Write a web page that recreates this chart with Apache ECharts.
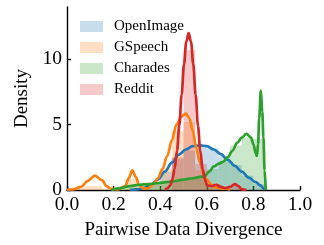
<!DOCTYPE html>
<html>
<head>
<meta charset="utf-8">
<script src="https://cdn.jsdelivr.net/npm/echarts@6/dist/echarts.min.js"></script>
<style>html,body{margin:0;padding:0;background:#fff;}#c{width:324px;height:245px;}</style>
</head>
<body>
<div id="c"></div>
<script>
// ---- data ----
const seriesNames = ['OpenImage', 'GSpeech', 'Charades', 'Reddit'];
const xTicks = [0, 0.2, 0.4, 0.6, 0.8, 1.0];
const yTicks = [0, 5, 10];

// histogram bins: [left, right, density]
const histOpenImage = [[0.30,0.35,0.05],[0.35,0.40,0.4],[0.40,0.45,1.4],[0.45,0.50,2.4],[0.50,0.55,3.0],[0.55,0.60,3.3],[0.60,0.65,3.2],[0.65,0.70,2.6],[0.70,0.75,1.9],[0.75,0.80,1.1],[0.80,0.85,0.45]];
const histGSpeech = [[0.00,0.05,0.05],[0.05,0.10,0.3],[0.10,0.15,0.3],[0.15,0.20,0.1],[0.25,0.30,0.85],[0.30,0.35,0.2],[0.35,0.40,0.6],[0.40,0.45,1.7],[0.45,0.50,4.5],[0.50,0.55,5.2],[0.55,0.60,1.5],[0.60,0.65,0.3]];
const histCharades = [[0.20,0.25,0.15],[0.25,0.30,0.3],[0.30,0.35,0.4],[0.35,0.40,0.5],[0.40,0.45,0.6],[0.45,0.50,0.7],[0.50,0.55,0.8],[0.55,0.60,0.9],[0.60,0.65,1.6],[0.65,0.70,2.2],[0.70,0.75,3.4],[0.75,0.80,4.0],[0.80,0.85,3.9]];
const histReddit = [[0.45,0.50,2.5],[0.50,0.55,10.7],[0.55,0.60,2.0],[0.60,0.65,0.2],[0.65,0.70,0.2],[0.70,0.75,0.3]];

// density curves: [x, density]
const kdeOpenImage = [[0.27,0.0],[0.30,0.05],[0.33,0.15],[0.36,0.4],[0.39,0.8],[0.42,1.4],[0.45,2.1],[0.48,2.7],[0.51,3.1],[0.54,3.35],[0.57,3.42],[0.60,3.35],[0.63,3.1],[0.66,2.75],[0.69,2.3],[0.72,1.85],[0.75,1.4],[0.78,0.95],[0.81,0.6],[0.83,0.35],[0.845,0.1],[0.85,0.0]];
const kdeGSpeech = [[0.0,0.02],[0.03,0.05],[0.06,0.25],[0.09,0.7],[0.12,1.1],[0.15,0.75],[0.17,0.3],[0.19,0.08],[0.22,0.05],[0.25,0.3],[0.265,0.9],[0.28,1.5],[0.295,1.0],[0.31,0.35],[0.33,0.12],[0.35,0.15],[0.37,0.45],[0.39,0.9],[0.41,1.6],[0.43,2.6],[0.45,3.8],[0.47,5.0],[0.49,5.6],[0.51,5.85],[0.525,5.5],[0.54,4.5],[0.555,3.2],[0.57,2.1],[0.585,1.3],[0.60,0.8],[0.62,0.4],[0.64,0.2],[0.66,0.15],[0.68,0.1],[0.70,0.05]];
const kdeCharades = [[0.19,0.0],[0.23,0.15],[0.27,0.3],[0.31,0.4],[0.35,0.45],[0.40,0.55],[0.45,0.65],[0.50,0.8],[0.54,0.9],[0.57,1.0],[0.59,1.05],[0.61,1.4],[0.63,1.8],[0.65,2.0],[0.67,2.15],[0.69,2.5],[0.71,3.0],[0.73,3.6],[0.75,4.0],[0.77,4.3],[0.79,4.0],[0.80,3.5],[0.81,2.8],[0.815,2.6],[0.82,3.5],[0.825,5.5],[0.832,7.6],[0.838,6.0],[0.843,4.0],[0.848,1.5],[0.853,0.0]];
const kdeReddit = [[0.42,0.02],[0.432,0.13],[0.442,0.34],[0.452,0.79],[0.462,1.62],[0.472,2.99],[0.482,4.93],[0.492,7.28],[0.502,9.61],[0.512,11.35],[0.522,12.0],[0.532,11.35],[0.542,9.61],[0.552,7.28],[0.562,4.93],[0.572,2.99],[0.582,1.62],[0.592,0.79],[0.602,0.35],[0.62,0.3],[0.64,0.4],[0.66,0.25],[0.68,0.15],[0.70,0.25],[0.72,0.45],[0.735,0.3],[0.75,0.05],[0.77,0.0]];

const colors = ['#1f77b4', '#ff7f0e', '#2ca02c', '#d62728'];
const fills = ['rgba(31,119,180,0.25)', 'rgba(255,127,14,0.25)', 'rgba(44,160,44,0.25)', 'rgba(214,39,40,0.25)'];
const hists = [histOpenImage, histGSpeech, histCharades, histReddit];
const kdes = [kdeOpenImage, kdeGSpeech, kdeCharades, kdeReddit];

const FONT = '"Liberation Serif", "Times New Roman", serif';

function histSeries(i) {
  return {
    type: 'custom',
    name: seriesNames[i],
    data: hists[i],
    encode: { x: [0, 1], y: 2 },
    z: 1,
    itemStyle: { color: fills[i] },
    renderItem: function (params, api) {
      const p0 = api.coord([api.value(0), api.value(2)]);
      const p1 = api.coord([api.value(1), 0]);
      return {
        type: 'rect',
        shape: { x: p0[0], y: p0[1], width: p1[0] - p0[0], height: p1[1] - p0[1] },
        style: { fill: fills[i] }
      };
    }
  };
}
function kdeSeries(i) {
  return {
    type: 'line',
    name: seriesNames[i] + ' KDE',
    data: kdes[i],
    showSymbol: false,
    smooth: 0.35,
    smoothMonotone: 'x',
    z: 3,
    lineStyle: { color: colors[i], width: 2.7 },
    itemStyle: { color: colors[i] }
  };
}

const chart = echarts.init(document.getElementById('c'), null, { renderer: 'canvas' });
chart.setOption({
  animation: false,
  grid: { left: 67, right: 24, top: 7, bottom: 52 },
  legend: {
    orient: 'vertical',
    left: 80, top: 19, padding: 0,
    itemWidth: 23, itemHeight: 11, itemGap: 6,
    icon: 'rect',
    textStyle: { fontFamily: FONT, fontSize: 15, color: '#000', lineHeight: 15, padding: [0, 0, 0, 6] },
    data: seriesNames.map((n, i) => ({ name: n, itemStyle: { color: fills[i] } }))
  },
  xAxis: {
    type: 'value', min: 0, max: 1, interval: 0.2,
    name: 'Pairwise Data Divergence', nameLocation: 'middle', nameGap: 31,
    nameTextStyle: { fontFamily: FONT, fontSize: 19, color: '#000' },
    axisLine: { onZero: false, lineStyle: { color: '#000', width: 1.4 } },
    axisTick: { inside: true, length: 4, lineStyle: { color: '#000', width: 1.4 }, customValues: xTicks },
    axisLabel: { fontFamily: FONT, fontSize: 19.5, color: '#000', margin: 5, customValues: xTicks,
      formatter: v => v.toFixed(1) },
    splitLine: { show: false }
  },
  yAxis: {
    type: 'value', min: 0, max: 14, interval: 5,
    name: 'Density', nameLocation: 'middle', nameGap: 34,
    nameTextStyle: { fontFamily: FONT, fontSize: 19, color: '#000' },
    axisLine: { show: true, onZero: false, lineStyle: { color: '#000', width: 1.4 } },
    axisTick: { show: true, inside: true, length: 4, lineStyle: { color: '#000', width: 1.4 }, customValues: yTicks },
    axisLabel: { fontFamily: FONT, fontSize: 19.5, color: '#000', margin: 5, customValues: yTicks },
    splitLine: { show: false }
  },
  series: [0, 1, 2, 3].map(histSeries).concat([0, 1, 2, 3].map(kdeSeries))
});
</script>
</body>
</html>
